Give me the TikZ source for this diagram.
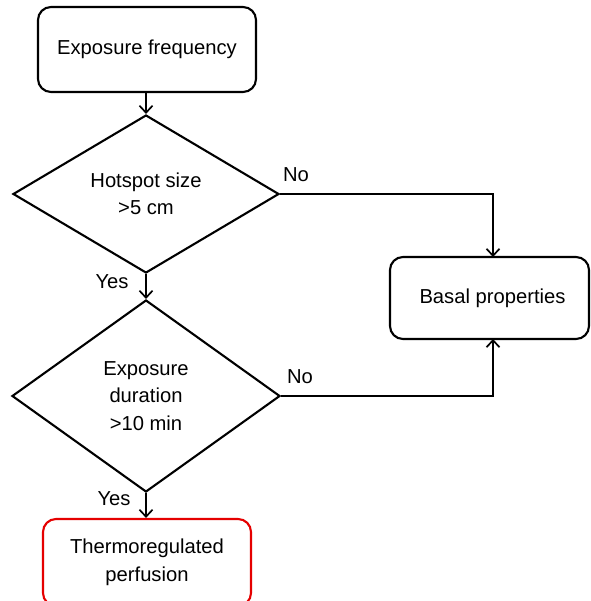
\documentclass[tikz,border=0pt]{standalone}
\usepackage{fontspec}
\setmainfont{Liberation Sans}
\usetikzlibrary{shapes.geometric,arrows.meta}
\begin{document}
\begin{tikzpicture}[x=1pt,y=-1pt,
  every node/.style={font=\fontsize{20.2}{27.5}\selectfont, text=black},
  boxnode/.style={draw=black, line width=2.1pt, rounded corners=13pt, align=center, inner sep=0pt},
  redbox/.style={boxnode, draw=red!90!black},
  decision/.style={draw=black, line width=2.1pt, shape=diamond, align=center, inner sep=0pt},
  lbl/.style={inner sep=0pt},
  arr/.style={line width=1.7pt, -{Straight Barb[length=7pt,width=13pt,line width=1.7pt]}}
]
\useasboundingbox (0,0) rectangle (590,601);
\clip (0,0) rectangle (590,601);
\fill[white] (0,0) rectangle (590,601);

\node[boxnode, minimum width=218pt, minimum height=85pt] (freq) at (147,49.5) {Exposure frequency};
\node[decision, minimum width=266pt, minimum height=158pt] (hot) at (146,194) {Hotspot size\\>5 cm};
\node[decision, minimum width=268pt, minimum height=192pt] (dur) at (146,396) {Exposure\\duration\\>10 min};
\node[redbox, minimum width=208pt, minimum height=87pt] (thermo) at (147,562.5) {Thermoregulated\\perfusion};
\node[boxnode, minimum width=199pt, minimum height=82pt] (basal) at (489.5,298) {\hspace*{6pt}Basal properties};

\coordinate (bt) at (493,257);
\coordinate (bb) at (493,339);

\draw[arr] (freq.south -| hot.north) -- (hot.north);
\draw[arr] (hot.south) -- (dur.north);
\draw[arr] (dur.south) -- (dur.south |- thermo.north);
\draw[arr] (hot.east) -| (bt);
\draw[arr] (dur.east) -| (bb);

\node[lbl] (no1) at (296,175) {No};
\node[lbl] (no2) at (300,377) {No};
\node[lbl] (yes1) at (112,282) {Yes};
\node[lbl] (yes2) at (114,499) {Yes};
\end{tikzpicture}
\end{document}
